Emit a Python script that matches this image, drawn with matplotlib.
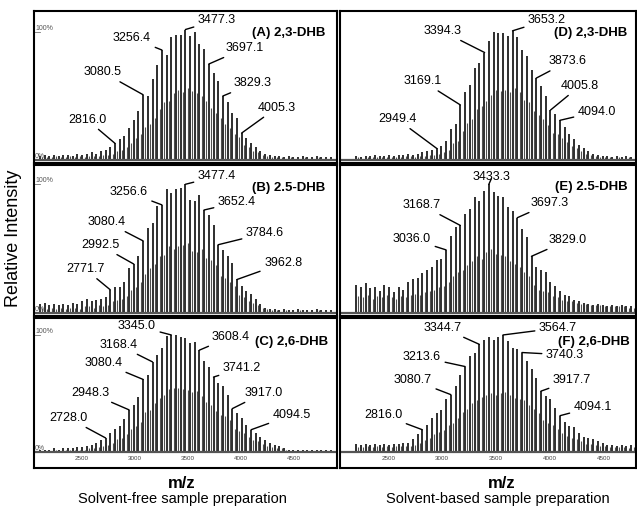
import matplotlib
matplotlib.use("Agg")
import matplotlib.pyplot as plt
import matplotlib.transforms as mtransforms
import numpy as np

plt.rcParams['font.family'] = ['Liberation Sans', 'DejaVu Sans']

# m/z of the oligomer series (one peak every ~44 Da)
series_mz = np.array([
    2111.7, 2155.8, 2199.8, 2243.9, 2287.9, 2332.0, 2376.0, 2420.1, 2464.2, 2508.2,
    2552.2, 2596.3, 2640.4, 2684.4, 2728.5, 2772.5, 2816.5, 2860.6, 2904.7, 2948.7,
    2992.8, 3036.8, 3080.8, 3124.9, 3169.0, 3213.0, 3257.0, 3301.1, 3345.2, 3389.2,
    3433.2, 3477.3, 3521.4, 3565.4, 3609.4, 3653.5, 3697.6, 3741.6, 3785.6, 3829.7,
    3873.8, 3917.8, 3961.8, 4005.9, 4050.0, 4094.0, 4138.0, 4182.1, 4226.2, 4270.2,
    4314.2, 4358.3, 4402.4, 4446.4, 4490.5, 4534.5, 4578.5, 4622.6, 4666.7, 4710.7,
    4754.8, 4798.8, 4842.8])
adduct_shift = 22.0

# relative intensities (%) - left column starts at series_mz[0], right at series_mz[2]
a_main = [3, 4, 3, 4, 3, 4, 4, 3, 5, 4, 5, 6, 5, 7, 8,
          10, 13, 16, 19, 25, 31, 38, 51, 50, 63, 74, 86, 82, 96, 98, 98, 102,
          97, 100, 91, 87, 75, 68, 62, 50, 45, 37, 33, 21, 17, 13, 10, 7, 5, 4, 3, 3, 2, 3, 2, 2, 3, 2, 2, 3, 2, 2, 2]
a_sub = [2, 2, 2, 3, 2, 2, 3, 2, 3, 2, 3, 3, 3, 4, 4,
         5, 7, 8, 10, 13, 17, 20, 26, 28, 33, 40, 45, 46, 52, 55, 53, 56,
         54, 52, 50, 46, 41, 37, 33, 28, 25, 20, 18, 12, 10, 7, 6, 4, 3, 2, 2, 2, 1, 2, 1, 1, 2, 1, 1, 2, 1, 1, 1]
b_main = [7, 8, 6, 7, 6, 7, 6, 8, 7, 9, 11, 9, 10, 11, 12,
          18, 20, 20, 24, 35, 38, 44, 56, 66, 70, 83, 84, 96, 93, 96, 97, 100,
          88, 87, 92, 80, 76, 68, 53, 49, 44, 39, 26, 21, 17, 15, 11, 7, 4, 3, 3, 2, 3, 2, 2, 3, 2, 2, 2, 3, 2, 2, 2]
b_sub = [4, 3, 4, 3, 4, 3, 4, 4, 3, 5, 5, 4, 6, 5, 6,
         9, 10, 11, 13, 18, 20, 24, 30, 35, 38, 44, 45, 52, 50, 52, 53, 54,
         48, 47, 50, 43, 41, 37, 29, 27, 24, 21, 14, 12, 9, 8, 6, 4, 3, 2, 2, 1, 2, 1, 1, 2, 1, 1, 1, 2, 1, 1, 1]
c_main = [2, 2, 2, 3, 2, 3, 3, 3, 4, 4, 5, 6, 8, 10,
          12, 16, 20, 22, 28, 36, 40, 47, 62, 66, 77, 83, 89, 99, 100, 100, 98, 97,
          93, 94, 87, 78, 73, 64, 59, 56, 49, 37, 33, 29, 23, 19, 16, 13, 10, 8, 6, 5, 3, 2, 2, 2, 2, 2, 2, 2, 2, 2, 2]
c_sub = [1, 1, 1, 2, 1, 2, 2, 2, 2, 2, 3, 3, 4, 5,
         6, 8, 11, 12, 15, 20, 22, 26, 34, 36, 42, 46, 49, 54, 55, 55, 54, 53,
         51, 52, 48, 43, 40, 35, 32, 31, 27, 20, 18, 16, 13, 10, 9, 7, 5, 4, 3, 3, 2, 1, 1, 1, 1, 1, 1, 1, 1, 1, 1]
d_main = [3, 2, 3, 3, 4, 3, 3, 4, 3, 4, 4, 5, 4, 5, 6, 7, 8,
          9, 11, 15, 24, 28, 43, 53, 59, 72, 76, 84, 93, 100,
          99, 99, 97, 101, 96, 86, 81, 70, 64, 58, 50, 39, 36, 31, 26, 20, 16, 12, 9, 7, 5, 4, 3, 3, 2, 3, 2, 3, 2, 2, 2]
d_sub = [2, 1, 2, 2, 2, 2, 2, 2, 2, 2, 3, 3, 2, 3, 3, 4, 4,
         5, 6, 8, 13, 15, 23, 29, 32, 40, 42, 46, 51, 55,
         54, 55, 53, 56, 53, 47, 45, 38, 35, 32, 27, 21, 20, 17, 14, 11, 9, 7, 5, 4, 3, 2, 2, 2, 1, 2, 1, 2, 1, 1, 1]
e_main = [22, 20, 23, 19, 20, 17, 22, 20, 16, 20, 18, 24, 26, 27, 31, 33, 36, 41, 42,
          49, 60, 67, 68, 77, 81, 90, 87, 95, 100, 94,
          91, 90, 82, 79, 74, 65, 59, 44, 36, 33, 32, 24, 21, 17, 14, 13, 10, 9, 8, 7, 6, 7, 6, 5, 6, 5, 6, 5, 5, 4, 5]
e_sub = [13, 12, 14, 11, 13, 12, 14, 12, 11, 13, 12, 14, 15, 14, 16, 17, 18, 20, 21,
         24, 29, 32, 33, 37, 40, 44, 42, 47, 50, 46,
         45, 44, 40, 38, 36, 32, 29, 22, 18, 17, 16, 13, 12, 10, 9, 9, 8, 7, 7, 6, 6, 6, 5, 5, 5, 5, 5, 4, 4, 4, 4]
f_main = [7, 6, 7, 6, 7, 6, 7, 6, 7, 7, 8, 8,
          11, 15, 19, 23, 29, 33, 36, 45, 49, 56, 66, 73, 82, 85, 92, 96, 98, 96,
          98, 100, 95, 89, 88, 85, 78, 71, 63, 52, 48, 45, 38, 31, 26, 22, 21, 16, 13, 12, 11, 9, 8, 6, 6, 5, 6, 5, 6, 5, 5]
f_sub = [4, 4, 5, 4, 5, 4, 5, 4, 5, 5, 5, 5,
         6, 8, 10, 12, 15, 17, 19, 23, 25, 29, 34, 37, 42, 44, 47, 49, 50, 49,
         50, 51, 49, 46, 45, 44, 40, 37, 33, 27, 25, 23, 20, 16, 14, 12, 11, 9, 7, 7, 6, 5, 5, 4, 4, 4, 4, 3, 4, 3, 3]

# labelled peaks (m/z)
a_labels = [2816.0, 3080.5, 3256.4, 3477.3, 3697.1, 3829.3, 4005.3]
b_labels = [2771.7, 2992.5, 3080.4, 3256.6, 3477.4, 3652.4, 3784.6, 3962.8]
c_labels = [2728.0, 2948.3, 3080.4, 3168.4, 3345.0, 3608.4, 3741.2, 3917.0, 4094.5]
d_labels = [2949.4, 3169.1, 3394.3, 3653.2, 3873.6, 4005.8, 4094.0]
e_labels = [3036.0, 3168.7, 3433.3, 3697.3, 3829.0]
f_labels = [2816.0, 3080.7, 3213.6, 3344.7, 3564.7, 3740.3, 3917.7, 4094.1]

titles = ['(A) 2,3-DHB', '(B) 2.5-DHB', '(C) 2,6-DHB', '(D) 2,3-DHB', '(E) 2.5-DHB', '(F) 2,6-DHB']
tick_vals = [2500, 3000, 3500, 4000, 4500]

# layout: label text positions (m/z, %) for each panel
a_txt = [(2554, 31.5), (2704, 68.5), (2977, 95.3), (3774, 109.4), (4037, 87.4), (4112, 59.8), (4337, 40.9)]
b_txt = [(2536, 34.1), (2677, 52.7), (2741, 70.5), (2945, 93.8), (3774, 106.2), (3962, 86), (4225, 62), (4396, 38.8)]
c_txt = [(2381, 29), (2582, 50.4), (2709, 76), (2849, 91.5), (3023, 107.7), (3899, 98.3), (4009, 71.8), (4212, 50.4), (4477, 31.6)]
d_txt = [(2581, 32), (2822, 61.4), (2999, 100.8), (3974, 109.4), (4168, 77), (4280, 58), (4438, 37.8)]
e_txt = [(2720, 57.4), (2813, 83.7), (3462, 105.4), (4001, 85.3), (4169, 56.6)]
f_txt = [(2451, 31.6), (2728, 61.5), (2812, 81), (3007, 106), (4076, 106), (4141, 83), (4206, 61.5), (4400, 38.5)]

W, H = 637, 508
fig = plt.figure(figsize=(W / 100, H / 100), dpi=100)

def rect(x0, y0, x1, y1):
    return [x0 / W, 1 - y1 / H, (x1 - x0) / W, (y1 - y0) / H]

cols = [(34, 337, (2056, 4901), 0), (340, 636, (2051, 4800), 2)]
rows = [(11, 163, (-2.4, 116.5)), (165, 316, (-2.4, 115)), (318, 468, (-13.7, 114.5))]
title_pos = [(0.96, 0.855), (0.96, 0.848), (0.97, 0.84), (0.97, 0.855), (0.973, 0.854), (0.98, 0.84)]

panels = [(a_main, a_sub, a_labels, a_txt), (b_main, b_sub, b_labels, b_txt), (c_main, c_sub, c_labels, c_txt),
          (d_main, d_sub, d_labels, d_txt), (e_main, e_sub, e_labels, e_txt), (f_main, f_sub, f_labels, f_txt)]

for ci, (x0, x1, xlim, first) in enumerate(cols):
    for ri, (y0, y1, ylim) in enumerate(rows):
        idx = ci * 3 + ri
        main, sub, labels, txt = panels[idx]
        ax = fig.add_axes(rect(x0, y0, x1, y1))
        mz = series_mz[first:first + len(main)]
        ax.vlines(mz + adduct_shift, 0, sub, color='#505050', lw=0.8)
        ax.vlines(mz, 0, main, color='black', lw=1.15)
        ax.axhline(0, color='#555555', lw=1.6)
        ax.set_xlim(*xlim)
        ax.set_ylim(*ylim)
        ax.set_yticks([])
        for s in ax.spines.values():
            s.set_linewidth(1.5)
        if ri == 2:
            ax.set_xticks(tick_vals)
            ax.set_xticklabels([str(t) for t in tick_vals])
            ax.tick_params(axis='x', length=0, pad=-9, labelsize=4.5, labelcolor='#444444')
        else:
            ax.set_xticks([])
        if ci == 0:
            tr = mtransforms.blended_transform_factory(ax.transAxes, ax.transData)
            ax.text(0.004, 100, '100%', transform=tr, fontsize=5, color='#555555', ha='left', va='bottom')
            ax.plot([0, 0.02], [100, 100], transform=tr, color='#777777', lw=0.6)
            ax.text(0.004, 0, '0%', transform=tr, fontsize=5, color='#555555', ha='left', va='bottom')
        tx, ty = title_pos[idx]
        ax.text(tx, ty, titles[idx], transform=ax.transAxes, fontsize=9.5, fontweight='bold',
                ha='right', va='center')
        main_arr = np.array(main)
        for lab, (px, py) in zip(labels, txt):
            k = np.argmin(np.abs(mz - lab))
            ax.annotate(f'{lab:.1f}', xy=(lab, main_arr[k]), xytext=(px, py),
                        ha='center', va='center', fontsize=9,
                        arrowprops=dict(arrowstyle='-', color='black', lw=1.0, shrinkA=1, shrinkB=0))

fig.text(14 / W, 1 - 238 / H, 'Relative Intensity', rotation=90, fontsize=13, ha='center', va='center')
fig.text(182 / W, 1 - 483 / H, 'm/z', fontsize=12, fontweight='bold', ha='center', va='center')
fig.text(182 / W, 1 - 499 / H, 'Solvent-free sample preparation', fontsize=10.5, ha='center', va='center')
fig.text(502 / W, 1 - 483 / H, 'm/z', fontsize=12, fontweight='bold', ha='center', va='center')
fig.text(498 / W, 1 - 499 / H, 'Solvent-based sample preparation', fontsize=10.5, ha='center', va='center')

fig.savefig('out.png', dpi=100)
